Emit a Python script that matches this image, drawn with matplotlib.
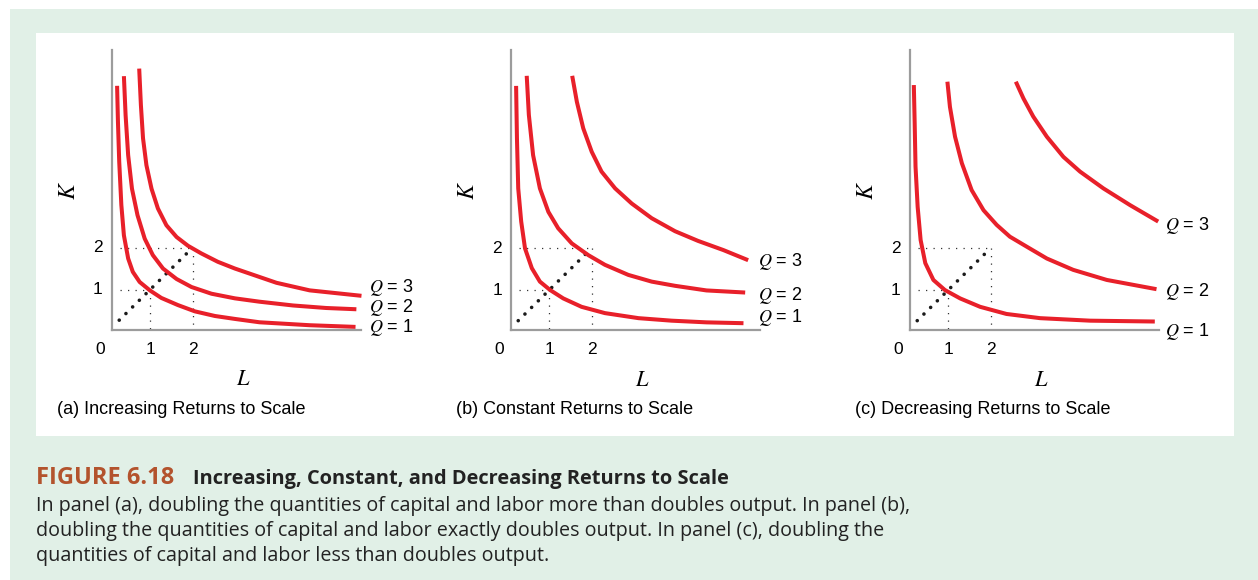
import matplotlib
matplotlib.use("Agg")
import matplotlib.pyplot as plt
from matplotlib.patches import Rectangle

plt.rcParams['mathtext.fontset'] = 'stix'
plt.rcParams['font.family'] = ['Liberation Sans', 'DejaVu Sans']

# ---- data (L, K pairs along each isoquant) ----
# (a) increasing returns to scale
a_q1_L = [0.22, 0.24, 0.27, 0.32, 0.38, 0.48, 0.59, 0.75, 0.99, 1.26, 1.65, 2.05, 2.52, 2.99, 3.57, 4.75, 5.83]
a_q1_K = [5.85, 4.99, 4.04, 3.01, 2.29, 1.74, 1.42, 1.18, 0.98, 0.80, 0.63, 0.48, 0.37, 0.30, 0.22, 0.15, 0.11]
a_q2_L = [0.38, 0.42, 0.48, 0.57, 0.70, 0.87, 1.06, 1.30, 1.62, 1.97, 2.44, 2.99, 3.57, 4.36, 5.14, 5.85]
a_q2_K = [6.08, 5.15, 4.20, 3.40, 2.77, 2.21, 1.82, 1.50, 1.25, 1.06, 0.90, 0.79, 0.71, 0.62, 0.56, 0.53]
a_q3_L = [0.74, 0.78, 0.83, 0.91, 1.03, 1.18, 1.38, 1.62, 1.89, 2.20, 2.59, 2.99, 3.97, 4.75, 5.97]
a_q3_K = [6.26, 5.39, 4.60, 3.96, 3.40, 2.93, 2.53, 2.25, 2.04, 1.86, 1.66, 1.50, 1.16, 0.98, 0.85]

# (b) constant returns to scale
b_q1_L = [0.22, 0.24, 0.27, 0.34, 0.43, 0.59, 0.78, 1.02, 1.33, 1.76, 2.31, 3.10, 3.88, 4.70, 5.57]
b_q1_K = [5.86, 4.61, 3.42, 2.63, 1.99, 1.52, 1.20, 1.00, 0.80, 0.60, 0.45, 0.33, 0.27, 0.23, 0.21]
b_q2_L = [0.47, 0.52, 0.62, 0.78, 0.98, 1.21, 1.53, 1.92, 2.31, 2.86, 3.41, 3.96, 4.70, 5.61]
b_q2_K = [6.10, 5.17, 4.21, 3.42, 2.86, 2.47, 2.11, 1.83, 1.60, 1.36, 1.20, 1.10, 0.99, 0.94]
b_q3_L = [1.54, 1.65, 1.80, 2.00, 2.23, 2.55, 2.94, 3.41, 3.96, 4.50, 5.10, 5.68]
b_q3_K = [6.10, 5.48, 4.85, 4.29, 3.82, 3.42, 3.06, 2.71, 2.40, 2.17, 1.95, 1.71]

# (c) decreasing returns to scale
c_q1_L = [0.19, 0.21, 0.23, 0.28, 0.35, 0.46, 0.65, 0.92, 1.28, 1.75, 2.37, 3.16, 4.34, 5.86]
c_q1_K = [5.88, 4.97, 3.94, 2.98, 2.19, 1.64, 1.24, 1.00, 0.80, 0.60, 0.43, 0.33, 0.27, 0.25]
c_q2_L = [0.98, 1.04, 1.16, 1.32, 1.55, 1.83, 2.14, 2.45, 2.85, 3.32, 3.94, 4.73, 5.90]
c_q2_K = [5.96, 5.36, 4.65, 4.02, 3.38, 2.90, 2.55, 2.27, 2.03, 1.75, 1.48, 1.24, 1.02]
c_q3_L = [2.59, 2.77, 3.00, 3.32, 3.71, 4.10, 4.65, 5.28, 5.94]
c_q3_K = [5.96, 5.56, 5.13, 4.65, 4.17, 3.82, 3.42, 3.02, 2.63]

tick_vals = [1, 2]
ray_L = [0.27, 1.92]
ray_K = [0.27, 1.92]
q_labels = ['1', '2', '3']
panel_titles = ['(a) Increasing Returns to Scale',
                '(b) Constant Returns to Scale',
                '(c) Decreasing Returns to Scale']

curves = [
    [(a_q1_L, a_q1_K), (a_q2_L, a_q2_K), (a_q3_L, a_q3_K)],
    [(b_q1_L, b_q1_K), (b_q2_L, b_q2_K), (b_q3_L, b_q3_K)],
    [(c_q1_L, c_q1_K), (c_q2_L, c_q2_K), (c_q3_L, c_q3_K)],
]

# ---- layout (pixels) ----
W, H = 1258, 580
RED = '#e8202a'
GRID = '#333333'
AXC = '#9c9c9c'

spine_x = [112, 511, 910]
spine_y = [329.5, 330, 330]
AW, AH = 249, 280
# Q label positions: left x offset from spine, centre y pixel
q_label_x = [257, 247, 255]
q_label_y = [[328, 307, 288], [317, 295, 261], [332, 291, 225]]

fig = plt.figure(figsize=(W / 100, H / 100), dpi=100)
fig.patch.set_facecolor('white')
fig.patches.append(Rectangle((10 / W, 0), 1 - 10 / W, 1 - 9 / H, transform=fig.transFigure,
                             facecolor='#e1f0e7', edgecolor='none', zorder=-2))
fig.patches.append(Rectangle((36 / W, 1 - 435.5 / H), (1234 - 36) / W, (435.5 - 33) / H,
                             transform=fig.transFigure, facecolor='white', edgecolor='none', zorder=-1))


def fx(px):
    return px / W


def fy(py):
    return 1 - py / H


for i in range(3):
    sx, sy = spine_x[i], spine_y[i]
    ax = fig.add_axes([fx(sx), fy(sy), AW / W, AH / H])
    ax.set_facecolor('none')
    ax.set_xlim(0.1, 0.1 + AW / 42.5)
    ax.set_ylim(0.048, 0.048 + AH / 42.0)
    for s in ['top', 'right']:
        ax.spines[s].set_visible(False)
    for s in ['left', 'bottom']:
        ax.spines[s].set_color(AXC)
        ax.spines[s].set_linewidth(1.6)
    ax.set_xticks([])
    ax.set_yticks([])

    # guide lines
    for v in tick_vals:
        ax.plot([0.28, v], [v, v], color=GRID, lw=0.9, ls=(0, (1, 5)), clip_on=False)
        ax.plot([v, v], [v, 0.07], color=GRID, lw=0.9, ls=(0, (1, 5)), clip_on=False)
    ax.plot(ray_L, ray_K, color='#1a1a1a', lw=2.6, ls=(0, (0.01, 2.6)),
            dash_capstyle='round', clip_on=False)

    for L, K in curves[i]:
        ax.plot(L, K, color=RED, lw=2.9, solid_capstyle='butt', solid_joinstyle='round',
                clip_on=False)

    # tick labels
    xt = ax.get_xaxis_transform()
    yt = ax.get_yaxis_transform()
    for v in tick_vals:
        ax.text(v, -20 / AH, str(v), transform=xt, ha='center', va='center', fontsize=12.5)
        ax.text(-14 / AW, v, str(v), transform=yt, ha='center', va='center', fontsize=12.5)
    ax.text(-12 / AW, -20 / AH, '0', transform=ax.transAxes, ha='center', va='center',
            fontsize=12.5)

    ax.text(-43 / AW, (sy - 190) / AH, '$K$', transform=ax.transAxes, rotation=90,
            ha='center', va='center', fontsize=17)
    ax.text(131 / AW, -50 / AH, '$L$', transform=ax.transAxes, ha='center', va='center',
            fontsize=16)
    ax.text(-55 / AW, -80 / AH, panel_titles[i], transform=ax.transAxes, ha='left',
            va='center', fontsize=13)

    for j, q in enumerate(q_labels):
        ax.text(q_label_x[i] / AW, (sy - q_label_y[i][j]) / AH, '$Q$ = ' + q,
                transform=ax.transAxes, ha='left', va='center', fontsize=13)

# ---- caption ----
cap_font = ['Open Sans', 'DejaVu Sans']
fig.text(fx(36), fy(484), 'FIGURE 6.18', color='#b3532d', fontsize=17, fontweight='bold',
         family=cap_font, va='baseline', ha='left')
fig.text(fx(193), fy(484), 'Increasing, Constant, and Decreasing Returns to Scale',
         color='#222222', fontsize=14.4, fontweight='bold', family=cap_font,
         va='baseline', ha='left')
body = ['In panel (a), doubling the quantities of capital and labor more than doubles output. In panel (b),',
        'doubling the quantities of capital and labor exactly doubles output. In panel (c), doubling the',
        'quantities of capital and labor less than doubles output.']
for k, line in enumerate(body):
    fig.text(fx(36), fy(511 + 25 * k), line, color='#222222', fontsize=14.2, family=cap_font,
             va='baseline', ha='left')

fig.savefig('out.png', dpi=100, facecolor=fig.get_facecolor())
